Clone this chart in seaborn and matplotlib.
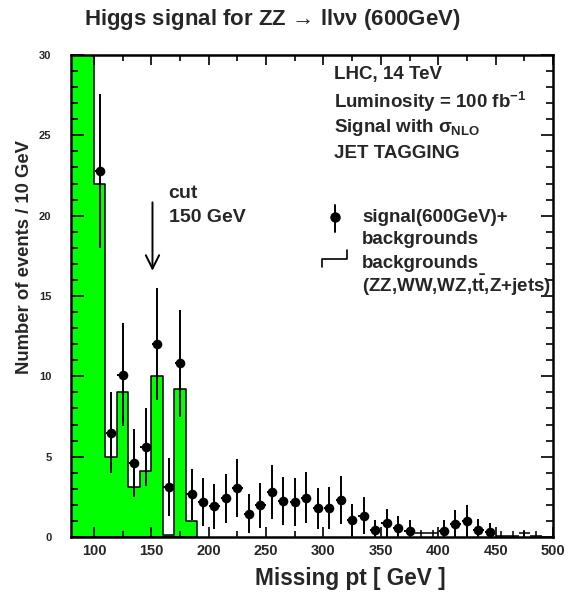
import numpy as np
import pandas as pd
import matplotlib
matplotlib.use("Agg")
import matplotlib.pyplot as plt
from matplotlib.ticker import MultipleLocator
import seaborn as sns

# ---- data ----
bg_edges = [80, 90, 100, 110, 120, 130, 140, 150, 160, 170, 180, 190]
bg_values = [45, 35, 22, 5, 9, 3.1, 4.1, 10, 0.15, 9.2, 1.0]

pt_x = [105, 115, 125, 135, 145, 155, 165, 175, 185, 195, 205, 215, 225, 235, 245,
        255, 265, 275, 285, 295, 305, 315, 325, 335, 345, 355, 365, 375,
        405, 415, 425, 435, 445]
pt_y = [22.8, 6.5, 10.1, 4.6, 5.6, 12.0, 3.1, 10.8, 2.65, 2.2, 1.9, 2.4, 3.07, 1.45, 1.97,
        2.8, 2.26, 2.2, 2.45, 1.78, 1.82, 2.3, 1.06, 1.33, 0.42, 0.85, 0.54, 0.4,
        0.4, 0.8, 0.97, 0.44, 0.3]
pt_err = [4.8, 2.5, 3.2, 2.1, 2.4, 3.5, 1.8, 3.3, 1.6, 1.5, 1.4, 1.5, 1.8, 1.2, 1.4,
          1.7, 1.5, 1.5, 1.6, 1.3, 1.3, 1.5, 1.0, 1.15, 0.65, 0.9, 0.75, 0.65,
          0.65, 0.9, 1.0, 0.66, 0.55]

low_x = [385, 395, 455, 465, 475, 485]
low_y = [0.22, 0.22, 0.05, 0.05, 0.22, 0.05]
low_err = [0.2, 0.2, 0.3, 0.3, 0.2, 0.3]

xticks = [100, 150, 200, 250, 300, 350, 400, 450, 500]
yticks = [0, 5, 10, 15, 20, 25, 30]

# ---- style ----
sns.set_theme(style="white")
plt.rcParams["font.family"] = ["Liberation Sans", "DejaVu Sans"]
plt.rcParams["font.weight"] = "bold"
plt.rcParams["mathtext.fontset"] = "custom"
plt.rcParams["mathtext.rm"] = "Liberation Sans"
plt.rcParams["mathtext.it"] = "Liberation Sans"
plt.rcParams["mathtext.bf"] = "Liberation Sans:bold"

W, H = 569, 593
fig = plt.figure(figsize=(W / 100, H / 100), dpi=100)
ax = fig.add_axes([71 / W, 1 - 537 / H, (553 - 71) / W, (537 - 55) / H])

centers = [(a + b) / 2 for a, b in zip(bg_edges[:-1], bg_edges[1:])]
df_bg = pd.DataFrame({"pt": centers, "w": bg_values})
sns.histplot(data=df_bg, x="pt", weights="w", bins=bg_edges, element="step",
             fill=True, color="#00ff00", edgecolor="black", linewidth=1.1,
             alpha=1.0, ax=ax, zorder=1)

# data points with error bars
ax.errorbar(pt_x, pt_y, yerr=pt_err, xerr=4.5, fmt="none", ecolor="black",
            elinewidth=1.4, capsize=0, zorder=3)
df_pt = pd.DataFrame({"x": pt_x, "y": pt_y})
sns.scatterplot(data=df_pt, x="x", y="y", color="black", s=48, edgecolor="black",
                linewidth=0, ax=ax, zorder=4)
ax.errorbar(low_x, low_y, yerr=low_err, xerr=5, fmt="none", ecolor="black",
            elinewidth=1.1, capsize=0, zorder=3)

ax.set_xlim(80, 500)
ax.set_ylim(0, 30)
ax.set_xlabel("")
ax.set_ylabel("")
ax.xaxis.set_major_locator(MultipleLocator(50))
ax.xaxis.set_minor_locator(MultipleLocator(25))
ax.yaxis.set_major_locator(MultipleLocator(5))
ax.yaxis.set_minor_locator(MultipleLocator(1))
ax.set_xticks(xticks)
ax.set_yticks(yticks)
ax.set_xticklabels([str(v) for v in xticks], fontsize=10.5, fontweight="bold")
ax.set_yticklabels([str(v) for v in yticks], fontsize=8, fontweight="bold")
ax.tick_params(axis="both", which="both", direction="in", top=True, right=True,
               bottom=True, left=True, width=1.2, color="black")
ax.tick_params(axis="x", which="major", length=7, pad=5)
ax.tick_params(axis="x", which="minor", length=4)
ax.tick_params(axis="y", which="major", length=9, pad=14)
ax.tick_params(axis="y", which="minor", length=5)
for sp in ax.spines.values():
    sp.set_color("black")
    sp.set_linewidth(1.8)
ax.set_axisbelow(False)

# cut arrow and text
ax.annotate("", xy=(151, 16.4), xytext=(151, 21.0),
            arrowprops=dict(arrowstyle="->", color="black", lw=1.4,
                            mutation_scale=24))
ax.text(165, 21.4, "cut", fontsize=14, fontweight="bold", va="center", ha="left")
ax.text(165, 19.9, "150 GeV", fontsize=14, fontweight="bold", va="center", ha="left")

# top-right annotations
fs = 13.5
fig.text(334 / W, 1 - 75 / H, "LHC, 14 TeV", fontsize=fs, fontweight="bold", va="center")
fig.text(334 / W, 1 - 102 / H, r"Luminosity = 100 fb$^{\mathbf{-1}}$", fontsize=fs,
         fontweight="bold", va="center")
fig.text(334 / W, 1 - 127 / H, r"Signal with $\sigma_{\mathbf{NLO}}$", fontsize=fs,
         fontweight="bold", va="center")
fig.text(334 / W, 1 - 153 / H, "JET TAGGING", fontsize=fs, fontweight="bold", va="center")

fig.text(362 / W, 1 - 218 / H, "signal(600GeV)+", fontsize=fs, fontweight="bold", va="center")
fig.text(362 / W, 1 - 240 / H, "backgrounds", fontsize=fs, fontweight="bold", va="center")
fig.text(362 / W, 1 - 263 / H, "backgrounds", fontsize=fs, fontweight="bold", va="center")
fig.text(362 / W, 1 - 285 / H, r"(ZZ,WW,WZ,$\mathbf{t}\bar{\mathbf{t}}$,Z+jets)", fontsize=fs,
         fontweight="bold", va="center")

# legend symbols (figure pixel coords)
def fx(px):
    return px / W
def fy(py):
    return 1 - py / H
fig.add_artist(plt.Line2D([fx(335), fx(335)], [fy(205), fy(232)], color="black", lw=1.4))
fig.add_artist(plt.Line2D([fx(335)], [fy(217)], marker="o", color="black", markersize=6.5))
fig.add_artist(plt.Line2D([fx(322), fx(322), fx(347), fx(347)],
                          [fy(267), fy(259), fy(259), fy(250)], color="black", lw=1.2))

# titles
fig.text(272 / W, 1 - 20 / H, "Higgs signal for ZZ \u2192 ll$\\nu\\nu$ (600GeV)",
         fontsize=16, fontweight="bold", ha="center", va="center")
fig.text(350 / W, 1 - 578 / H, "Missing pt [ GeV ]", fontsize=16.3, fontweight="bold",
         ha="center", va="center")
fig.text(25 / W, 1 - 257 / H, "Number of events / 10 GeV", fontsize=13.3, fontweight="bold",
         ha="center", va="center", rotation=90)

fig.savefig("out.png", dpi=100)
